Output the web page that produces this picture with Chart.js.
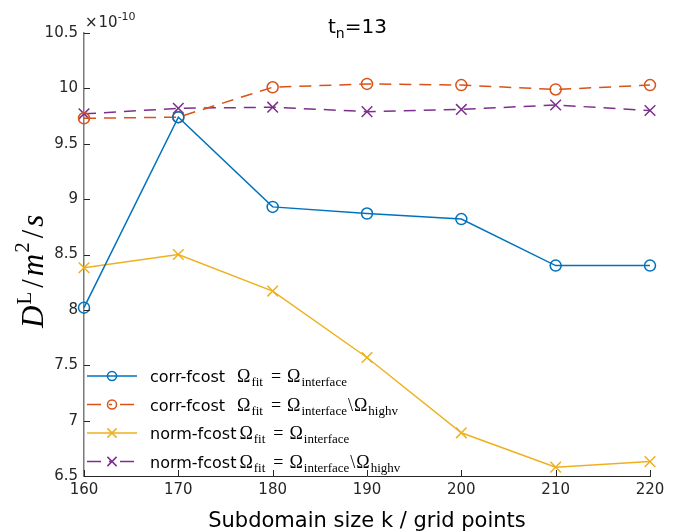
<!DOCTYPE html>
<html>
<head>
<meta charset="utf-8">
<script src="https://cdn.jsdelivr.net/npm/chart.js@4.4.0/dist/chart.umd.min.js"></script>
<style>
  html, body { margin: 0; padding: 0; background: #fff; }
  #wrap { width: 676px; height: 532px; }
</style>
</head>
<body>
<div id="wrap"><canvas id="diffChart"></canvas></div>
<script>
// subdomain size k (grid points)
const sizes = [160, 170, 180, 190, 200, 210, 220];
// D^L in units of 1e-10 m^2/s
const corrInterface = [8.02, 9.74, 8.93, 8.87, 8.82, 8.40, 8.40];
const corrNoHighv = [9.73, 9.74, 10.01, 10.04, 10.03, 9.99, 10.03];
const normInterface = [8.38, 8.50, 8.17, 7.57, 6.89, 6.58, 6.63];
const normNoHighv = [9.77, 9.82, 9.83, 9.79, 9.81, 9.85, 9.80];
const yTicks = [6.5, 7, 7.5, 8, 8.5, 9, 9.5, 10, 10.5];
const xTicks = [160, 170, 180, 190, 200, 210, 220];
// legend: method name, fit region excludes high-v part?
const methods = ['corr-fcost', 'corr-fcost', 'norm-fcost', 'norm-fcost'];
const excludesHighv = [false, true, false, true];

const SANS = '"DejaVu Sans", sans-serif';
const SERIF = '"Liberation Serif", "Times New Roman", serif';
const AXIS = '#262626';

function toPoints(vals) {
    return sizes.map((s, i) => ({ x: s, y: vals[i] }));
}

function lineSet(label, vals, color, marker, dashed) {
    return {
        label: label,
        data: toPoints(vals),
        borderColor: color,
        backgroundColor: color,
        borderWidth: 1.5,
        borderDash: dashed ? [12, 8] : [],
        pointStyle: marker,
        pointRadius: marker === 'circle' ? 5.5 : 7.5,
        pointBorderWidth: 1.5,
        pointBackgroundColor: 'rgba(0,0,0,0)',
        pointBorderColor: color,
        tension: 0,
        clip: false
    };
}

// draw a run of text pieces: {t, font, dy, gap}
function drawRuns(ctx, x, y, runs) {
    runs.forEach(r => {
        x += r.pre || 0;
        ctx.font = r.font;
        ctx.fillText(r.t, x, y + (r.dy || 0));
        x += ctx.measureText(r.t).width + (r.gap || 0);
    });
    return x;
}

const decorations = {
    id: 'decorations',
    afterDraw(chart) {
        const { ctx, chartArea: a, scales: { x, y } } = chart;
        ctx.save();

        // inward tick marks
        ctx.strokeStyle = AXIS;
        ctx.lineWidth = 1;
        x.ticks.forEach(t => {
            const px = Math.round(x.getPixelForValue(t.value)) + 0.5;
            ctx.beginPath();
            ctx.moveTo(px, a.bottom);
            ctx.lineTo(px, a.bottom - 6);
            ctx.stroke();
        });
        y.ticks.forEach(t => {
            const py = Math.round(y.getPixelForValue(t.value)) + 0.5;
            ctx.beginPath();
            ctx.moveTo(a.left, py);
            ctx.lineTo(a.left + 6, py);
            ctx.stroke();
        });

        ctx.fillStyle = '#000';
        ctx.textBaseline = 'alphabetic';
        ctx.textAlign = 'left';

        // title t_n=13
        drawRuns(ctx, 328, 33, [
            { t: 't', font: '20px ' + SANS },
            { t: 'n', font: '14px ' + SANS, dy: 5 },
            { t: '=13', font: '20px ' + SANS }
        ]);

        // exponent x10^-10
        ctx.fillStyle = AXIS;
        drawRuns(ctx, 85, 27, [
            { t: '\u00d7', font: '15px ' + SANS, gap: 1 },
            { t: '10', font: '15px ' + SANS },
            { t: '-10', font: '11px ' + SANS, dy: -7 }
        ]);

        // y-axis label D^L / m^2 / s
        ctx.fillStyle = '#000';
        ctx.save();
        ctx.translate(43, 328);
        ctx.rotate(-Math.PI / 2);
        drawRuns(ctx, 0, 0, [
            { t: 'D', font: 'italic 31px ' + SERIF, gap: 1 },
            { t: 'L', font: '21px ' + SERIF, dy: -12, gap: 4 },
            { t: '/', font: '31px ' + SERIF, gap: 3 },
            { t: 'm', font: 'italic 31px ' + SERIF, gap: 1 },
            { t: '2', font: '21px ' + SERIF, dy: -14, gap: 4 },
            { t: '/', font: '31px ' + SERIF, gap: 3 },
            { t: 's', font: 'italic 31px ' + SERIF }
        ]);
        ctx.restore();

        // legend
        const rowY = [376, 404.5, 433, 461.5];
        chart.data.datasets.forEach((ds, i) => {
            const yy = rowY[i];
            ctx.save();
            ctx.strokeStyle = ds.borderColor;
            ctx.fillStyle = 'rgba(0,0,0,0)';
            ctx.lineWidth = ds.borderWidth;
            ctx.setLineDash(ds.borderDash.length ? [14, 8, 3, 8] : []);
            ctx.beginPath();
            ctx.moveTo(87, yy);
            ctx.lineTo(137, yy);
            ctx.stroke();
            ctx.setLineDash([]);
            Chart.helpers.drawPoint(ctx, {
                pointStyle: ds.pointStyle,
                radius: ds.pointStyle === 'circle' ? 4.5 : 6.5,
                borderWidth: 1.5
            }, 112, yy);
            ctx.restore();

            ctx.fillStyle = '#000';
            const base = yy + 6;
            const end = drawRuns(ctx, 150, base, [{ t: methods[i], font: '16px ' + SANS }]);
            const runs = [
                { t: '\u03a9', font: '18px ' + SERIF, gap: 1 },
                { t: 'fit', font: '13px ' + SERIF, dy: 4, gap: 8 },
                { t: '=', font: '18px ' + SERIF, gap: 6 },
                { t: '\u03a9', font: '18px ' + SERIF, gap: 1 },
                { t: 'interface', font: '13px ' + SERIF, dy: 4 }
            ];
            if (excludesHighv[i]) {
                runs.push({ t: '\\', font: '18px ' + SERIF, pre: 1, gap: 1 });
                runs.push({ t: '\u03a9', font: '18px ' + SERIF, gap: 1 });
                runs.push({ t: 'highv', font: '13px ' + SERIF, dy: 4 });
            }
            drawRuns(ctx, Math.max(237, end + 3), base, runs);
        });

        ctx.restore();
    }
};

const ctx = document.getElementById('diffChart').getContext('2d');
new Chart(ctx, {
    type: 'line',
    data: {
        datasets: [
            lineSet('corr-fcost interface', corrInterface, '#0072BD', 'circle', false),
            lineSet('corr-fcost interface\\highv', corrNoHighv, '#D95319', 'circle', true),
            lineSet('norm-fcost interface', normInterface, '#EDB120', 'crossRot', false),
            lineSet('norm-fcost interface\\highv', normNoHighv, '#7E2F8E', 'crossRot', true)
        ]
    },
    options: {
        responsive: true,
        maintainAspectRatio: false,
        animation: false,
        layout: { padding: { top: 33, right: 26, left: 0, bottom: 0 } },
        plugins: {
            legend: { display: false },
            tooltip: { enabled: false },
            title: { display: false }
        },
        scales: {
            x: {
                type: 'linear',
                min: 160,
                max: 220,
                afterBuildTicks: scale => { scale.ticks = xTicks.map(v => ({ value: v })); },
                afterFit: scale => { scale.height = 56; },
                ticks: {
                    font: { family: SANS, size: 15 },
                    color: AXIS,
                    padding: 5,
                    maxRotation: 0,
                    callback: v => String(v)
                },
                grid: { display: false, drawTicks: false },
                border: { display: true, color: AXIS, width: 1 },
                title: {
                    display: true,
                    text: 'Subdomain size k / grid points',
                    font: { family: SANS, size: 21, lineHeight: 1.0 },
                    color: '#000',
                    padding: { top: 0, bottom: 0 }
                }
            },
            y: {
                type: 'linear',
                min: 6.5,
                max: 10.5,
                afterBuildTicks: scale => { scale.ticks = yTicks.map(v => ({ value: v })); },
                afterFit: scale => { scale.width = 84; },
                ticks: {
                    font: { family: SANS, size: 15 },
                    color: AXIS,
                    padding: 6,
                    callback: v => String(v)
                },
                grid: { display: false, drawTicks: false },
                border: { display: true, color: '#7a7a7a', width: 1.5 }
            }
        }
    },
    plugins: [decorations]
});
</script>
</body>
</html>
